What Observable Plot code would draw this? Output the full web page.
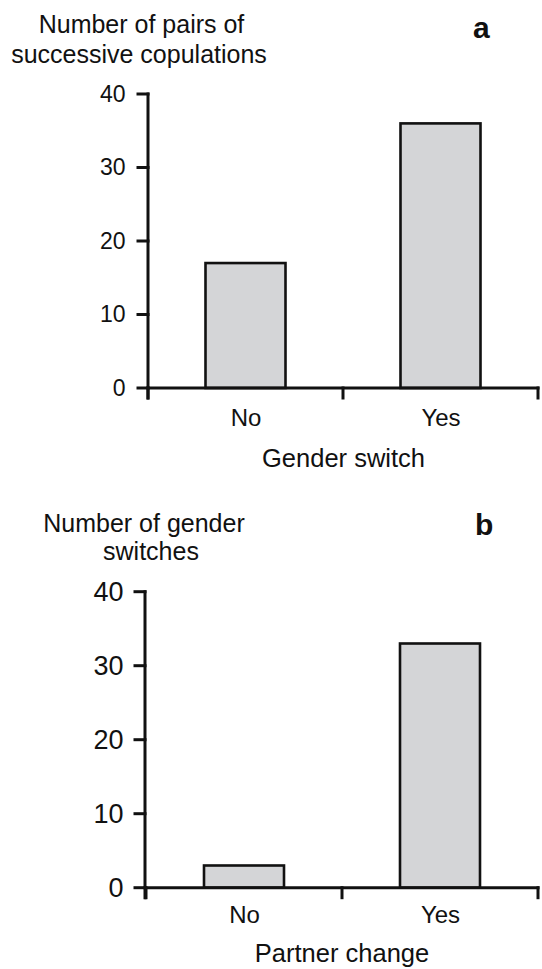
<!DOCTYPE html>
<html>
<head>
<meta charset="utf-8">
<script src="https://cdn.jsdelivr.net/npm/d3@7"></script>
<script src="https://cdn.jsdelivr.net/npm/@observablehq/plot@0.6"></script>
<style>
  body { margin: 0; background: #fff; }
  #wrap { position: relative; width: 542px; height: 969px; font-family: "Liberation Sans", Arial, sans-serif; color: #111; }
  .line { position: absolute; font-size: 25px; line-height: 30px; white-space: nowrap; transform: translateX(-50%); }
  .panel { position: absolute; font-size: 30px; line-height: 36px; font-weight: bold; }
  .plot { position: absolute; left: 0; }
</style>
</head>
<body>
<div id="wrap"></div>
<script>
// ---- Data ----
const categoriesA = ["No", "Yes"];
const valuesA = [17, 36];
const titleA = ["Number of pairs of", "successive copulations"];
const xLabelA = "Gender switch";
const panelA = "a";

const categoriesB = ["No", "Yes"];
const valuesB = [3, 33];
const titleB = ["Number of gender", "switches"];
const xLabelB = "Partner change";
const panelB = "b";

const yTicks = [0, 10, 20, 30, 40];

const wrap = document.getElementById("wrap");
const ink = "#111";
const barFill = "#d4d5d7";

function addLine(text, cx, baseline, cls) {
  const d = document.createElement("div");
  d.className = cls;
  d.textContent = text;
  d.style.left = cx + "px";
  d.style.top = (baseline - (cls === "line" ? 23.7 : 28.4)) + "px";
  wrap.appendChild(d);
}

// axis lines + ticks drawn from the scales
function axisLines(categories, tickLen) {
  return (index, scales, values, dims) => {
    const {x, y} = scales;
    const g = d3.create("svg:g")
      .attr("stroke", ink).attr("stroke-width", 3).attr("fill", "none").attr("stroke-linecap", "square");
    const x0 = dims.marginLeft, x1 = dims.width - dims.marginRight;
    const y0 = y(0), yTop = y(d3.max(yTicks));
    g.append("line").attr("x1", x0).attr("x2", x0).attr("y1", yTop).attr("y2", y0 + tickLen);
    g.append("line").attr("x1", x0).attr("x2", x1).attr("y1", y0).attr("y2", y0);
    for (const t of yTicks) {
      g.append("line").attr("x1", x0 - tickLen).attr("x2", x0).attr("y1", y(t)).attr("y2", y(t));
    }
    const bounds = [...categories.map(c => x(c)), x1];
    for (const b of bounds) {
      g.append("line").attr("x1", b).attr("x2", b).attr("y1", y0).attr("y2", y0 + tickLen);
    }
    return g.node();
  };
}

function panel(categories, values, opts) {
  const data = categories.map((c, i) => ({cat: c, value: values[i]}));
  return Plot.plot({
    width: 542,
    height: opts.height,
    marginTop: opts.mt, marginBottom: opts.mb, marginLeft: opts.ml, marginRight: 4,
    style: {fontFamily: '"Liberation Sans", Arial, sans-serif', color: ink, background: "transparent", overflow: "visible"},
    x: {domain: categories, padding: 0, axis: null},
    y: {domain: [0, 40], axis: null},
    marks: [
      Plot.barY(data, {x: "cat", y: "value", fill: barFill, stroke: ink, strokeWidth: 2.6, insetLeft: opts.inset, insetRight: opts.inset}),
      axisLines(categories, 10),
      Plot.axisY(yTicks, {tickSize: 0, tickPadding: opts.yPad, fontSize: opts.yFont, label: null}),
      Plot.axisX({tickSize: 0, tickPadding: opts.xPad, fontSize: 24, label: null}),
      Plot.text([opts.xLabel], {frameAnchor: "bottom", dy: opts.labelDy, fontSize: 25.5, fill: ink})
    ]
  });
}

const svgA = panel(categoriesA, valuesA, {height: 485, mt: 94, mb: 97, ml: 148, inset: 57.5, yPad: 23, yFont: 23, xPad: 20, labelDy: 78, xLabel: xLabelA});
svgA.classList.add("plot");
svgA.style.top = "0px";
wrap.appendChild(svgA);

const svgB = panel(categoriesB, valuesB, {height: 484, mt: 106.7, mb: 81.3, ml: 145, inset: 58, yPad: 22, yFont: 27, xPad: 18, labelDy: 74, xLabel: xLabelB});
svgB.classList.add("plot");
svgB.style.top = "485px";
wrap.appendChild(svgB);

addLine(titleA[0], 141.5, 33, "line");
addLine(titleA[1], 139, 63, "line");
addLine(panelA, 473, 38, "panel");
addLine(titleB[0], 144, 532, "line");
addLine(titleB[1], 151, 560, "line");
addLine(panelB, 475, 535, "panel");
</script>
</body>
</html>
